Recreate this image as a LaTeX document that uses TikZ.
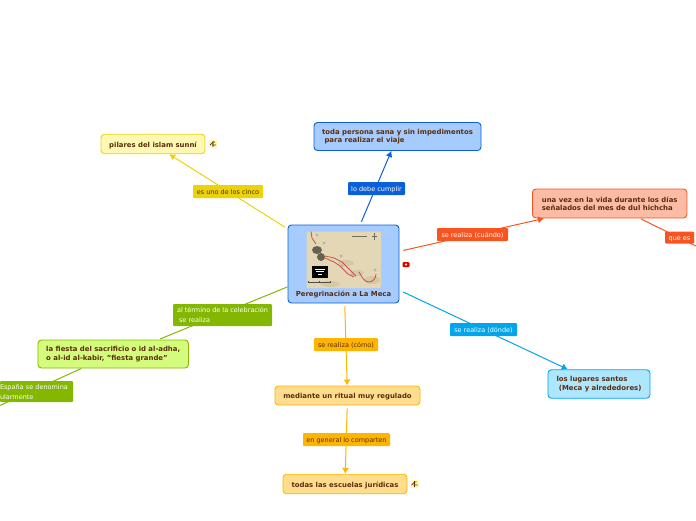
\documentclass[tikz,border=0pt]{standalone}
\usepackage{fontspec}
\setmainfont{DejaVu Sans}
\usetikzlibrary{arrows.meta}
\definecolor{txtbrown}{HTML}{5A2D0C}
\definecolor{blueline}{HTML}{0B5FD8}
\definecolor{bluefill}{HTML}{A6CBFF}
\definecolor{yellowline}{HTML}{EBD30A}
\definecolor{yellowfill}{HTML}{FFF8B3}
\definecolor{redline}{HTML}{F9541F}
\definecolor{redfill}{HTML}{FBBBA5}
\definecolor{greenline}{HTML}{84B800}
\definecolor{greenfill}{HTML}{D4FC7C}
\definecolor{amberline}{HTML}{FFB500}
\definecolor{amberfill}{HTML}{FFDD8F}
\definecolor{cyanline}{HTML}{00A5EC}
\definecolor{cyanfill}{HTML}{AEE6FD}
\definecolor{mapbeige}{HTML}{E3D7B5}
\definecolor{mapdark}{HTML}{D6C8A2}
\definecolor{maproute}{HTML}{C8504A}
\tikzset{
  topic/.style={draw=#1line, fill=#1fill, line width=0.9pt, rounded corners=3.5pt, text=txtbrown,
    font=\fontsize{6.9}{8.4}\selectfont\bfseries, align=left, inner sep=0pt,
    execute at begin node={\rule{0pt}{7.6pt}}},
  tag/.style={fill=#1line, rounded corners=1pt, text=white,
    font=\fontsize{6.5}{10}\selectfont, align=left, inner sep=0pt,
    execute at begin node={\rule{0pt}{6.6pt}}},
  link/.style={#1line, line width=1pt},
  arrowlink/.style={link=#1, -{Latex[length=6pt,width=7pt]}},
}
\begin{document}
\begin{tikzpicture}[x=1pt,y=-1pt]
\useasboundingbox (0,0) rectangle (696,520);
\clip (0,0) rectangle (696,520);

\node[topic=blue, minimum width=111, minimum height=78] (central) at (343.5,264) {};
\node[topic=blue, minimum width=167, minimum height=28] (persona) at (397.5,136.5) {toda persona sana y sin impedimentos\\ \ para realizar el viaje};
\node[topic=yellow, minimum width=104, minimum height=19.5] (pilares) at (153,144) {pilares del islam sunní};
\node[topic=red, minimum width=154.5, minimum height=29] (unavez) at (609.7,203.5) {una vez en la vida durante los días\\señalados del mes de dul hichcha};
\node[topic=cyan, minimum width=102, minimum height=28.5] (lugares) at (599,384) {los lugares santos\\ \ (Meca y alrededores)};
\node[topic=green, minimum width=150.5, minimum height=28] (fiesta) at (113.2,354) {la fiesta del sacrificio o id al-adha,\\o al-id al-kabir, "fiesta grande"};
\node[topic=amber, minimum width=145, minimum height=19] (ritual) at (347.5,395.5) {mediante un ritual muy regulado};
\node[topic=amber, minimum width=124, minimum height=19.5] (escuelas) at (345,484) {todas las escuelas jurídicas};

\coordinate (fiestatop) at (160,339);
\coordinate (offleft) at (-10,410);
\coordinate (offright) at (702,249);

\draw[arrowlink=blue, shorten <=3pt] (central) -- (persona);
\draw[arrowlink=yellow, shorten <=3pt] (central) -- (pilares);
\draw[arrowlink=red, shorten <=4pt] (central) -- (unavez);
\draw[arrowlink=cyan, shorten <=4pt] (central) -- (lugares);
\draw[arrowlink=amber, shorten <=3pt] (central) -- (ritual);
\draw[arrowlink=amber, shorten <=3pt] (ritual) -- (escuelas);
\draw[link=green] (central) -- (fiestatop);
\draw[link=green] (fiesta) -- (offleft);
\draw[link=red, shorten <=1pt] (unavez) -- (offright);

\node[tag=blue, minimum width=57, minimum height=13] (debe) at (376.5,188.5) {lo debe cumplir};
\node[tag=yellow, text=txtbrown, minimum width=70, minimum height=13] (cinco) at (228,191.5) {es uno de los cinco};
\node[tag=red, minimum width=71, minimum height=13] (cuando) at (472.5,234.5) {se realiza (cuándo)};
\node[tag=red, minimum width=29, minimum height=12] (quees) at (679.5,237.5) {que es};
\node[tag=cyan, minimum width=67, minimum height=13] (donde) at (483.5,329.5) {se realiza (dónde)};
\node[tag=amber, text=txtbrown, minimum width=64, minimum height=13] (como) at (346,344.5) {se realiza (cómo)};
\node[tag=amber, text=txtbrown, minimum width=87, minimum height=13] (comparten) at (346.5,439.5) {en general lo comparten};
\node[tag=green, minimum width=99, minimum height=22] (termino) at (222.5,315) {al término de la celebración\\ \ se realiza};
\node[tag=green, text width=73, minimum height=21] (espana) at (36.5,391.5) {España se denomina\\ularmente};

\node[text=txtbrown, font=\fontsize{6.9}{8}\selectfont\bfseries, inner sep=0pt] (titulo) at (343.5,294.5) {Peregrinación a La Meca};

% mapa
\fill[mapbeige, rounded corners=1pt] (306.5,231.5) rectangle (381,288);
\fill[mapdark] (346,263) ellipse (8 and 3);
\fill[mapdark] (357,273) ellipse (7 and 3);
\fill[mapdark] (372,280) ellipse (8 and 4);
\fill[mapdark] (330,284) ellipse (10 and 3);
\fill[black!55!mapbeige] (317,250) ellipse (5 and 4);
\fill[black!55!mapbeige] (321,257) ellipse (4 and 4);
\draw[maproute, line width=0.8pt] (311,231.5) -- (312,238) -- (316,244);
\draw[maproute, line width=0.8pt] (325,256) -- (334,258) -- (342,262) -- (352,272) -- (356,276);
\draw[maproute, line width=0.8pt] (325,258) -- (334,262) -- (340,266) -- (348,274) -- (354,277);
\draw[maproute, line width=0.8pt] (359,272) .. controls (362,277) and (364,282) .. (369,282) .. controls (373,282) and (376,278) .. (376,274);
\fill[black] (311.5,266) rectangle (328,277.5);
\draw[white, line width=0.3pt] (315,269) -- (325,269) (316,271.5) -- (324,271.5) (318,274) -- (322,274);
\draw[black!70, line width=0.3pt] (308,282) -- (330,282) (308,281) -- (308,283) (319,281) -- (319,283) (330,281) -- (330,283);
\draw[black!50!mapbeige, line width=0.6pt] (352,236.5) -- (367,236.5) (374.5,233) -- (374.5,240) (372,236.5) -- (377,236.5);
\foreach \x/\y in {317/235,324/243,341/256,342/266,353/275,375/270} {\fill[white] (\x,\y) circle (1.2); \draw[black!60, line width=0.2pt] (\x,\y) circle (1.2);}

% iconos
\node[fill=red!90!black, rounded corners=1pt, minimum width=7, minimum height=5, inner sep=0pt] (alerta) at (406,264.5) {};
\fill[white] (alerta) circle (1.1);
\foreach \name/\x/\y in {iconpilares/213/144, iconescuelas/414.5/484} {
  \node[fill=yellowfill, minimum width=8, minimum height=8, inner sep=0pt] (\name) at (\x,\y) {};
  \draw[txtbrown, line width=0.7pt] (\x-3,\y+1) -- (\x,\y-2) -- (\x+2,\y-2) (\x,\y-3) -- (\x,\y+3) (\x-1,\y+1) -- (\x+3,\y+1);
}
\end{tikzpicture}
\end{document}
